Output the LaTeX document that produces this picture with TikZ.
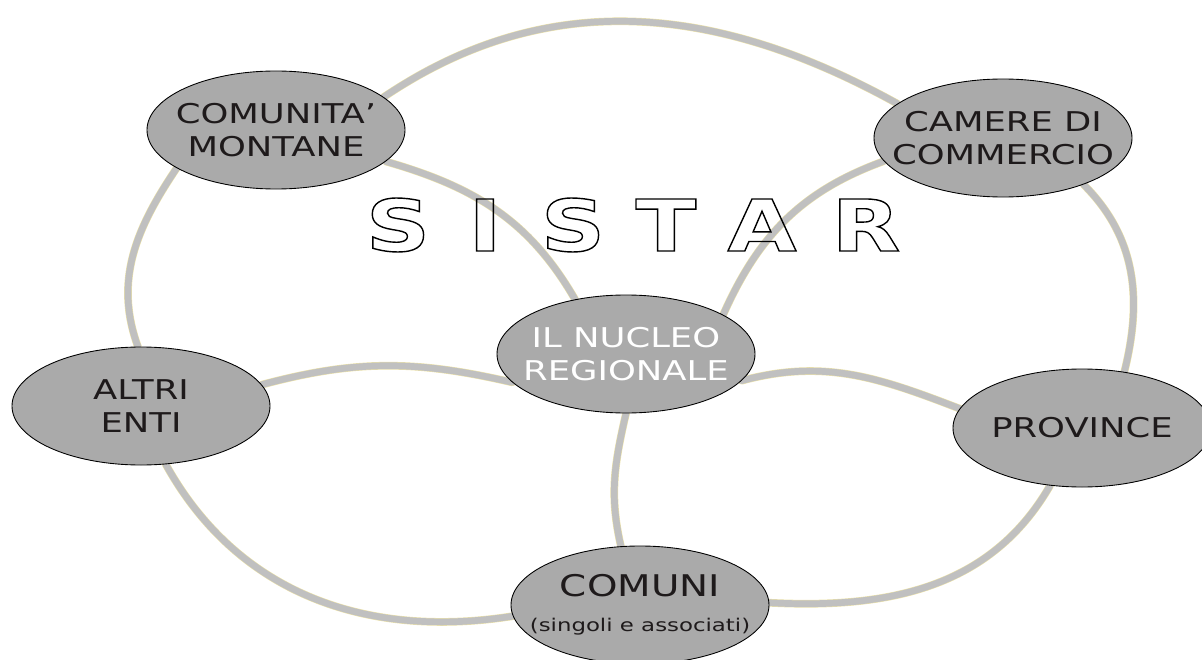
\documentclass[tikz,border=0pt]{standalone}
\usepackage{fontspec}
\setmainfont{DejaVu Sans}[FakeStretch=1.3]
\newfontfamily\titlefont{DejaVu Sans}[FakeStretch=1.25]
\usetikzlibrary{shapes.geometric,backgrounds}

\definecolor{ringgray}{RGB}{192,192,192}
\definecolor{ringedge}{RGB}{236,226,170}
\definecolor{entegray}{RGB}{170,170,170}
\definecolor{entetext}{RGB}{30,26,27}

% hollow letters: stroke only
\newcommand\hollow[1]{\special{pdf:literal direct 1 Tr 0.8 w}#1\special{pdf:literal direct 0 Tr}}

\begin{document}
\begin{tikzpicture}[
    ente/.style={ellipse, draw=black, line width=0.5pt, fill=entegray,
        minimum width=5.16cm, minimum height=2.36cm, inner sep=0pt},
    testo/.style={inner sep=0pt, align=center, text=entetext,
        font=\fontsize{15.5}{19}\selectfont},
    ring/.style={draw=ringedge, line width=0.3pt, double=ringgray,
        double distance=3.8pt, line cap=round},
    titolo/.style={inner sep=0pt, font=\titlefont\bfseries\fontsize{40.6}{44}\selectfont}
    ]
    \useasboundingbox (0,0) rectangle (24.04,13.18);

        \node[ente, label={[testo]center:COMUNITA’\\MONTANE}] (cm) at (5.52,10.58) {};
        \node[ente, label={[testo]center:CAMERE DI\\COMMERCIO}] (cc) at (20.06,10.42) {};
        \node[ente, label={[testo, text=white]center:IL NUCLEO\\REGIONALE}] (nr) at (12.52,6.10) {};
        \node[ente, label={[testo]center:ALTRI\\ENTI}] (ae) at (2.82,5.06) {};
        \node[ente, label={[testo]center:PROVINCE}] (pr) at (21.64,4.62) {};
        \node[ente, label={[testo]center:{\fontsize{17}{20}\selectfont COMUNI}\\[1pt]
            {\fontsize{10}{12}\selectfont (singoli e associati)}}] (co) at (12.80,1.08) {};

    \foreach \letter/\x [count=\i] in {S/7.96, I/9.70, S/11.46, T/13.32, A/15.24, R/17.32}
        \node[titolo] (sistar\i) at (\x,8.68) {\hollow{\letter}};

    \begin{scope}[on background layer]
        \draw[ring] (cm.17) to[out=34, in=151] (cc.162);
        \draw[ring] (cm.-16) to[out=-16, in=120] (nr.133);
        \draw[ring] (cc.191) to[out=200, in=66] (nr.22);
        \draw[ring] (cc.-30) to[out=-45, in=76] (pr.53);
        \draw[ring] (cm.201) to[out=236, in=110] (ae.93);

        \draw[ring] (ae.10) to[out=15, in=167] (nr.194);
        \draw[ring] (nr.-13) to[out=15, in=159] (pr.171);
        \draw[ring] (nr.-90) to[out=257, in=103] (co.108);
        \draw[ring] (ae.-67) to[out=-61, in=189] (co.185);
        \draw[ring] (pr.241) to[out=240, in=-3] (co.1);
    \end{scope}
\end{tikzpicture}
\end{document}
